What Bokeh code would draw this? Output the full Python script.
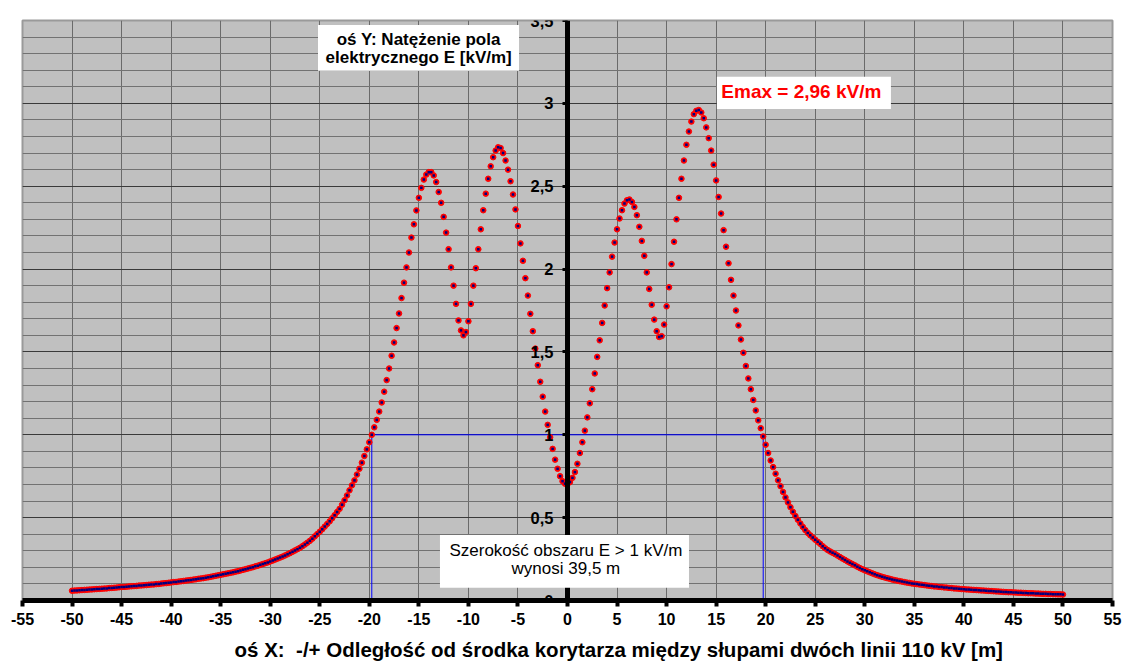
import numpy as np
from bokeh.plotting import figure
from bokeh.models import (ColumnDataSource, FixedTicker, CustomJSTickFormatter,
                          Grid, BoxAnnotation, Label)
from bokeh.embed import file_html
from bokeh.resources import INLINE

# Distance from the centre of the corridor between the towers, every 0.25 m
distance_m = np.linspace(-50, 50, 401)

# Electric field strength E [kV/m] at 1.8 m above ground, one row per metre
field_kv_m = [
    0.059, 0.060, 0.061, 0.062,   # -50
    0.063, 0.064, 0.065, 0.066,
    0.067, 0.068, 0.069, 0.070,
    0.071, 0.072, 0.073, 0.075,
    0.076, 0.077, 0.078, 0.080,
    0.081, 0.082, 0.083, 0.085,   # -45
    0.086, 0.087, 0.088, 0.090,
    0.091, 0.092, 0.093, 0.095,
    0.096, 0.097, 0.099, 0.100,
    0.102, 0.104, 0.105, 0.107,
    0.109, 0.111, 0.112, 0.114,   # -40
    0.116, 0.118, 0.120, 0.122,
    0.124, 0.126, 0.128, 0.131,
    0.133, 0.135, 0.138, 0.140,
    0.143, 0.146, 0.149, 0.152,
    0.155, 0.158, 0.161, 0.164,   # -35
    0.167, 0.170, 0.174, 0.177,
    0.181, 0.185, 0.189, 0.193,
    0.197, 0.201, 0.206, 0.210,
    0.215, 0.220, 0.225, 0.230,
    0.236, 0.241, 0.247, 0.253,   # -30
    0.259, 0.265, 0.272, 0.279,
    0.286, 0.294, 0.302, 0.310,
    0.318, 0.328, 0.338, 0.349,
    0.360, 0.373, 0.387, 0.401,
    0.415, 0.430, 0.446, 0.462,   # -25
    0.478, 0.496, 0.515, 0.534,
    0.553, 0.578, 0.605, 0.634,
    0.665, 0.695, 0.725, 0.760,
    0.795, 0.832, 0.872, 0.912,
    0.955, 1.000, 1.045, 1.090,   # -20
    1.140, 1.195, 1.260, 1.330,
    1.400, 1.477, 1.557, 1.644,
    1.732, 1.825, 1.918, 2.010,
    2.100, 2.190, 2.270, 2.354,
    2.430, 2.490, 2.540, 2.570,   # -15
    2.585, 2.585, 2.565, 2.525,
    2.465, 2.400, 2.315, 2.220,
    2.120, 2.010, 1.900, 1.790,
    1.690, 1.630, 1.600, 1.620,
    1.685, 1.790, 1.900, 2.005,   # -10
    2.120, 2.240, 2.355, 2.455,
    2.545, 2.620, 2.675, 2.715,
    2.735, 2.730, 2.700, 2.655,
    2.600, 2.530, 2.450, 2.360,
    2.260, 2.155, 2.050, 1.945,   # -5
    1.840, 1.730, 1.625, 1.520,
    1.420, 1.320, 1.230, 1.140,
    1.060, 0.985, 0.915, 0.850,
    0.795, 0.750, 0.720, 0.705,
    0.703, 0.715, 0.740, 0.775,   # 0
    0.825, 0.890, 0.955, 1.025,
    1.105, 1.190, 1.275, 1.370,
    1.470, 1.570, 1.675, 1.780,
    1.885, 1.980, 2.075, 2.160,
    2.240, 2.305, 2.355, 2.395,   # 5
    2.415, 2.420, 2.405, 2.375,
    2.325, 2.255, 2.170, 2.080,
    1.980, 1.880, 1.785, 1.695,
    1.625, 1.590, 1.595, 1.665,
    1.775, 1.890, 2.030, 2.165,   # 10
    2.300, 2.430, 2.545, 2.655,
    2.750, 2.830, 2.890, 2.935,
    2.955, 2.960, 2.945, 2.910,
    2.855, 2.790, 2.715, 2.630,
    2.535, 2.435, 2.335, 2.235,   # 15
    2.135, 2.035, 1.935, 1.840,
    1.750, 1.660, 1.575, 1.495,
    1.415, 1.340, 1.275, 1.210,
    1.147, 1.087, 1.040, 0.990,
    0.940, 0.890, 0.845, 0.805,   # 20
    0.765, 0.725, 0.690, 0.655,
    0.622, 0.592, 0.563, 0.535,
    0.510, 0.487, 0.465, 0.444,
    0.425, 0.408, 0.393, 0.380,
    0.367, 0.354, 0.342, 0.328,   # 25
    0.315, 0.305, 0.296, 0.288,
    0.280, 0.271, 0.262, 0.253,
    0.245, 0.236, 0.228, 0.220,
    0.212, 0.204, 0.196, 0.189,
    0.182, 0.176, 0.170, 0.164,   # 30
    0.158, 0.153, 0.148, 0.143,
    0.139, 0.135, 0.131, 0.127,
    0.123, 0.120, 0.117, 0.114,
    0.111, 0.108, 0.106, 0.103,
    0.101, 0.099, 0.097, 0.095,   # 35
    0.093, 0.091, 0.089, 0.087,
    0.085, 0.084, 0.082, 0.081,
    0.079, 0.078, 0.076, 0.075,
    0.073, 0.072, 0.071, 0.069,
    0.068, 0.067, 0.066, 0.065,   # 40
    0.064, 0.063, 0.062, 0.061,
    0.060, 0.059, 0.058, 0.057,
    0.056, 0.055, 0.054, 0.053,
    0.052, 0.051, 0.050, 0.050,
    0.049, 0.048, 0.047, 0.047,   # 45
    0.046, 0.045, 0.044, 0.044,
    0.043, 0.042, 0.042, 0.041,
    0.040, 0.040, 0.039, 0.039,
    0.038, 0.038, 0.037, 0.037,
    0.036,                        # 50
]
assert len(field_kv_m) == len(distance_m)

# Limit value and the width of the zone where it is exceeded
limit_kv_m = 1.0
zone_width_m = 39.5

x_ticks = list(range(-55, 60, 5))
x_grid = list(range(-50, 55, 5))
y_ticks = [0, 0.5, 1, 1.5, 2, 2.5, 3, 3.5]
y_grid_minor = [round(0.1 * i, 1) for i in range(1, 35)]
y_grid_major = [0.5, 1, 1.5, 2, 2.5, 3]

FONT = "Liberation Sans"

p = figure(width=1125, height=664, x_range=(-55, 55), y_range=(0, 3.5),
           output_backend="svg", toolbar_location=None,
           min_border_left=22, min_border_right=13,
           min_border_top=20, min_border_bottom=64,
           background_fill_color="#C0C0C0", border_fill_color="white",
           outline_line_color="#9A9A9A", outline_line_width=2)

# grid: every 5 m and every 0.1 kV/m, darker every 0.5 kV/m
p.xgrid.ticker = FixedTicker(ticks=x_grid)
p.xgrid.grid_line_color = "#6A6A6A"
p.ygrid.ticker = FixedTicker(ticks=y_grid_minor)
p.ygrid.grid_line_color = "#727272"
p.add_layout(Grid(dimension=1, ticker=FixedTicker(ticks=y_grid_major),
                  grid_line_color="#3A3A3A"))

# x axis along E = 0
xa = p.xaxis[0]
xa.ticker = FixedTicker(ticks=x_ticks)
xa.formatter = CustomJSTickFormatter(code="return tick.toFixed(0);")
xa.axis_line_width = 5
xa.axis_line_color = "black"
xa.major_tick_in = 0
xa.major_tick_out = 6
xa.major_tick_line_width = 4
xa.major_tick_line_color = "black"
xa.minor_tick_out = 0
xa.major_label_text_font = FONT
xa.major_label_text_font_style = "bold"
xa.major_label_text_font_size = "16px"
xa.major_label_text_color = "black"
xa.major_label_standoff = 6
xa.axis_label = ("\u00a0" * 18 +
                 "oś X:\u00a0 -/+ Odległość od środka korytarza między słupami dwóch linii 110 kV [m]")
xa.axis_label_text_font = FONT
xa.axis_label_text_font_style = "bold"
xa.axis_label_text_font_size = "20.5px"
xa.axis_label_text_color = "black"
xa.axis_label_standoff = 10

# y axis drawn through x = 0
ya = p.yaxis[0]
ya.fixed_location = 0
ya.ticker = FixedTicker(ticks=y_ticks)
ya.formatter = CustomJSTickFormatter(code="return tick.toString().replace('.', ',');")
ya.axis_line_width = 5
ya.axis_line_color = "black"
ya.major_tick_in = 0
ya.major_tick_out = 5
ya.major_tick_line_width = 3
ya.major_tick_line_color = "black"
ya.minor_tick_out = 0
ya.major_label_text_font = FONT
ya.major_label_text_font_style = "bold"
ya.major_label_text_font_size = "16.5px"
ya.major_label_text_color = "black"
ya.major_label_standoff = 9

# zone where E exceeds the limit
hw = zone_width_m / 2
p.line(x=[-hw, -hw, hw, hw], y=[0, limit_kv_m, limit_kv_m, 0],
       line_color="#0000FF", line_width=1)

# calculated points
src = ColumnDataSource(dict(x=distance_m, e=field_kv_m))
p.scatter("x", "e", source=src, marker="circle", size=5.5,
          fill_color="#FF0000", line_color="#FF0000", line_width=1)
p.scatter("x", "e", source=src, marker="square", size=2.5,
          fill_color="#000080", line_color=None)

# text boxes
def text_box(left, right, bottom, top):
    p.add_layout(BoxAnnotation(left=left, right=right, bottom=bottom, top=top,
                               fill_color="white", fill_alpha=1.0,
                               line_color=None))

def note(x, y, text, size="17px", style="bold", color="black"):
    p.add_layout(Label(x=x, y=y, text=text, text_font=FONT,
                       text_font_style=style, text_font_size=size,
                       text_color=color, text_align="center",
                       text_baseline="middle"))

text_box(-25.18, -4.89, 3.197, 3.473)
note(-15.02, 3.384, "oś Y: Natężenie pola")
note(-15.02, 3.275, "elektrycznego E [kV/m]")

e_max = max(field_kv_m)
text_box(15.08, 32.64, 2.966, 3.161)
note(23.6, 3.071, "Emax = " + f"{e_max:.2f}".replace(".", ",") + " kV/m",
     size="19px", color="#FF0000")

text_box(-12.87, 12.26, 0.077, 0.395)
note(-0.16, 0.302, "Szerokość obszaru E > 1 kV/m", style="normal")
note(-0.16, 0.194, "wynosi " + f"{zone_width_m:.1f}".replace(".", ",") + " m",
     style="normal")

open("out.html", "w").write(file_html(p, INLINE))
